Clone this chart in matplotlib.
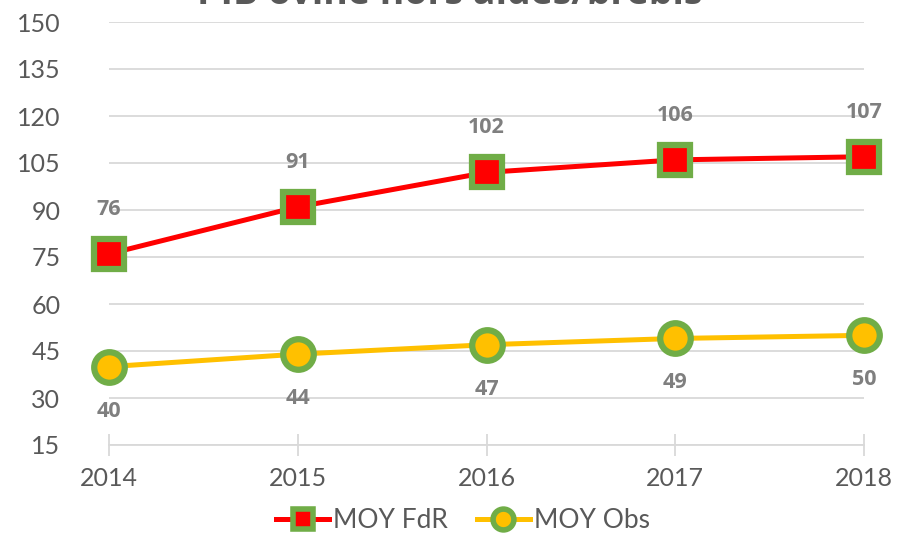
import matplotlib
matplotlib.use("Agg")
import matplotlib.pyplot as plt
from matplotlib.lines import Line2D

years = ["2014", "2015", "2016", "2017", "2018"]
moy_fdr = [76, 91, 102, 106, 107]
moy_obs = [40, 44, 47, 49, 50]
yticks = [15, 30, 45, 60, 75, 90, 105, 120, 135, 150]
title = "PIB ovine hors aides/brebis"

plt.rcParams['font.family'] = ['Lato', 'DejaVu Sans']
label_font = ['Open Sans', 'DejaVu Sans']

fig = plt.figure(figsize=(8.99, 5.36), dpi=100)
ax = fig.add_axes([109/899, 1-445/536, (864-109)/899, (445-22)/536])

x = list(range(len(years)))
green = "#70AD47"
ax.plot(x, moy_fdr, color="#FF0000", lw=3.6, marker="s", ms=21, mfc="#FF0000",
        mec=green, mew=4.5, zorder=4)
ax.plot(x, moy_obs, color="#FFC000", lw=3.6, marker="o", ms=22, mfc="#FFC000",
        mec=green, mew=4.5, zorder=4)

for xi, v in zip(x, moy_fdr):
    ax.annotate(str(v), (xi, v), xytext=(0, 32), textcoords="offset points",
                ha="center", va="center", fontsize=15.5, fontweight="bold",
                color="#7F7F7F", family=label_font)
for xi, v in zip(x, moy_obs):
    ax.annotate(str(v), (xi, v), xytext=(0, -32), textcoords="offset points",
                ha="center", va="center", fontsize=15.5, fontweight="bold",
                color="#7F7F7F", family=label_font)

ax.set_xlim(0, len(years)-1)
ax.set_ylim(15, 150)
ax.set_yticks(yticks)
ax.set_xticks(x)
ax.set_xticklabels(years)
ax.grid(axis="y", color="#D9D9D9", lw=1.3)
ax.set_axisbelow(True)
for s in ["top", "right", "left"]:
    ax.spines[s].set_visible(False)
ax.spines["bottom"].set_color("#D9D9D9")
ax.spines["bottom"].set_linewidth(1.3)
ax.tick_params(axis="y", length=0, pad=35, labelsize=18, labelcolor="#595959")
ax.tick_params(axis="x", length=16, width=1.3, color="#D9D9D9", direction="inout",
               pad=8, labelsize=18, labelcolor="#595959")
for line in ax.lines:
    line.set_clip_on(False)

fig.text(0.5, 1-4/536, title, ha="center", va="baseline", fontsize=27,
         fontweight="bold", color="#595959", family=label_font)

handles = [
    Line2D([], [], color="#FF0000", lw=3.6, marker="s", ms=15, mfc="#FF0000", mec=green, mew=4),
    Line2D([], [], color="#FFC000", lw=3.6, marker="o", ms=15, mfc="#FFC000", mec=green, mew=4),
]
fig.legend(handles, ["MOY FdR", "MOY Obs"], loc="center", bbox_to_anchor=(463/899, 1-521/536),
           ncol=2, frameon=False, fontsize=19, labelcolor="#595959",
           handlelength=2.0, handletextpad=0.15, columnspacing=1.1)

fig.savefig("out.png", dpi=100)
